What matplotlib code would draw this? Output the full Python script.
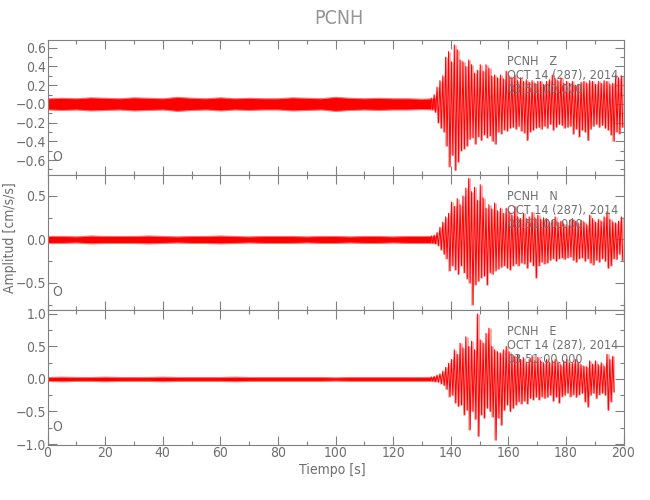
"""
Three-component seismogram PCNH (Z, N, E), SAC-style plot.
"""

import numpy as np
import matplotlib.pyplot as plt
from matplotlib.ticker import FixedLocator, FixedFormatter, MultipleLocator

plt.rcParams['font.family'] = ['DejaVu Sans']
plt.rcParams['font.stretch'] = 'condensed'

station = 'PCNH'
components = ['Z', 'N', 'E']
date_label = 'OCT 14 (287), 2014'
time_label = '03:51:00.000'

# background noise half-width, one value every 5 s from 0 to 135 s
noise_times = [0, 5, 10, 15, 20, 25, 30, 35, 40, 45, 50, 55, 60, 65,
               70, 75, 80, 85, 90, 95, 100, 105, 110, 115, 120, 125, 130, 135]
noise_z = [0.06, 0.065, 0.06, 0.07, 0.065, 0.06, 0.07, 0.065, 0.06, 0.075,
           0.065, 0.06, 0.07, 0.06, 0.065, 0.06, 0.06, 0.07, 0.065, 0.06,
           0.075, 0.065, 0.06, 0.065, 0.06, 0.06, 0.055, 0.06]
noise_n = [0.04, 0.04, 0.035, 0.045, 0.04, 0.04, 0.04, 0.045, 0.04, 0.035,
           0.04, 0.04, 0.045, 0.04, 0.035, 0.04, 0.04, 0.04, 0.035, 0.04,
           0.04, 0.035, 0.04, 0.04, 0.035, 0.04, 0.04, 0.04]
noise_e = [0.03, 0.035, 0.03, 0.03, 0.035, 0.03, 0.03, 0.03, 0.035, 0.03,
           0.03, 0.03, 0.03, 0.035, 0.03, 0.03, 0.03, 0.03, 0.03, 0.03,
           0.025, 0.03, 0.03, 0.03, 0.03, 0.03, 0.03, 0.03]

# event: peak max / min in each second, starting at 133 s
event_start = 133
z_max = [0.06, 0.10, 0.18, 0.25, 0.30, 0.50, 0.56, 0.45, 0.63, 0.58,
         0.47, 0.45, 0.40, 0.47, 0.42, 0.33, 0.36, 0.42, 0.35, 0.42,
         0.38, 0.30, 0.31, 0.28, 0.31, 0.27, 0.35, 0.30, 0.28, 0.31,
         0.25, 0.28, 0.24, 0.26, 0.23, 0.25, 0.22, 0.24, 0.24, 0.21,
         0.24, 0.26, 0.31, 0.27, 0.25, 0.28, 0.22, 0.24, 0.22, 0.24,
         0.20, 0.21, 0.23, 0.24, 0.22, 0.25, 0.24, 0.21, 0.24, 0.22,
         0.25, 0.24, 0.21, 0.22, 0.31, 0.28, 0.30]
z_min = [-0.06, -0.09, -0.20, -0.26, -0.30, -0.45, -0.67, -0.55, -0.71, -0.62,
         -0.50, -0.48, -0.45, -0.38, -0.36, -0.43, -0.35, -0.39, -0.33, -0.36,
         -0.34, -0.40, -0.43, -0.30, -0.32, -0.28, -0.29, -0.26, -0.25, -0.27,
         -0.24, -0.29, -0.31, -0.39, -0.30, -0.28, -0.26, -0.25, -0.27, -0.24,
         -0.26, -0.22, -0.28, -0.25, -0.22, -0.23, -0.26, -0.25, -0.24, -0.32,
         -0.27, -0.35, -0.28, -0.30, -0.39, -0.27, -0.24, -0.22, -0.25, -0.23,
         -0.26, -0.28, -0.33, -0.40, -0.30, -0.32, -0.25]
n_max = [0.04, 0.05, 0.08, 0.14, 0.20, 0.26, 0.30, 0.43, 0.38, 0.47,
         0.40, 0.50, 0.59, 0.70, 0.55, 0.60, 0.45, 0.63, 0.48, 0.36,
         0.40, 0.35, 0.42, 0.33, 0.36, 0.30, 0.36, 0.32, 0.28, 0.38,
         0.26, 0.24, 0.30, 0.24, 0.26, 0.31, 0.25, 0.28, 0.23, 0.25,
         0.24, 0.20, 0.22, 0.26, 0.20, 0.21, 0.18, 0.17, 0.22, 0.24,
         0.21, 0.19, 0.22, 0.20, 0.17, 0.28, 0.24, 0.20, 0.23, 0.21,
         0.26, 0.32, 0.23, 0.20, 0.19, 0.21, 0.26]
n_min = [-0.04, -0.05, -0.07, -0.12, -0.17, -0.22, -0.36, -0.30, -0.35, -0.40,
         -0.30, -0.38, -0.45, -0.50, -0.75, -0.52, -0.48, -0.44, -0.42, -0.52,
         -0.38, -0.40, -0.36, -0.34, -0.32, -0.30, -0.33, -0.35, -0.30, -0.28,
         -0.30, -0.27, -0.28, -0.33, -0.26, -0.30, -0.44, -0.30, -0.26, -0.28,
         -0.27, -0.24, -0.22, -0.25, -0.22, -0.21, -0.23, -0.21, -0.20, -0.24,
         -0.26, -0.22, -0.21, -0.25, -0.22, -0.27, -0.29, -0.24, -0.26, -0.22,
         -0.25, -0.33, -0.30, -0.22, -0.23, -0.17, -0.24]
e_max = [0.03, 0.04, 0.06, 0.08, 0.12, 0.18, 0.24, 0.30, 0.45, 0.38,
         0.55, 0.48, 0.65, 0.50, 0.58, 0.45, 1.00, 0.60, 0.55, 0.70,
         0.78, 0.50, 0.45, 0.42, 0.40, 0.45, 0.50, 0.42, 0.36, 0.35,
         0.38, 0.30, 0.32, 0.25, 0.30, 0.36, 0.28, 0.33, 0.28, 0.25,
         0.30, 0.26, 0.28, 0.30, 0.26, 0.22, 0.28, 0.30, 0.25, 0.24,
         0.30, 0.26, 0.22, 0.20, 0.19, 0.28, 0.23, 0.28, 0.22, 0.25,
         0.20, 0.38, 0.30, 0.35]
e_min = [-0.03, -0.04, -0.05, -0.07, -0.10, -0.16, -0.27, -0.25, -0.37, -0.42,
         -0.40, -0.55, -0.48, -0.78, -0.50, -0.62, -0.88, -0.55, -0.60, -0.45,
         -0.50, -0.58, -0.94, -0.60, -0.71, -0.48, -0.40, -0.50, -0.45, -0.40,
         -0.35, -0.38, -0.34, -0.38, -0.30, -0.32, -0.28, -0.32, -0.27, -0.30,
         -0.28, -0.25, -0.34, -0.28, -0.37, -0.27, -0.25, -0.22, -0.27, -0.24,
         -0.28, -0.24, -0.22, -0.35, -0.43, -0.25, -0.22, -0.30, -0.24, -0.22,
         -0.25, -0.48, -0.35, -0.20]

# axis settings per panel
y_limits = [(-0.76, 0.683), (-0.81, 0.74), (-1.015, 1.06)]
y_ticks = [[0.6, 0.4, 0.2, 0.0, -0.2, -0.4, -0.6],
           [0.5, 0.0, -0.5],
           [1.0, 0.5, 0.0, -0.5, -1.0]]
y_ticklabels = [['0.6', '0.4', '0.2', '\u22120.0', '\u22120.2', '\u22120.4', '\u22120.6'],
                ['0.5', '0.0', '\u22120.5'],
                ['1.0', '0.5', '0.0', '\u22120.5', '\u22121.0']]
y_minor = [0.1, 0.25, 0.25]

noise = [noise_z, noise_n, noise_e]
peaks = [(z_max, z_min), (n_max, n_min), (e_max, e_min)]

gray = '#808080'
text_gray = '#6e6e6e'
red = '#ff0000'

fig = plt.figure(figsize=(6.5, 5), dpi=100)
left, width = 47.5 / 650, 576 / 650
bottoms = [0.65, 0.38, 0.11]
height = 0.27

for i, comp in enumerate(components):
    ax = fig.add_axes([left, bottoms[i], width, height])

    # pre-event noise as a band
    amp = np.array(noise[i])
    ax.fill_between(noise_times, -amp, amp, facecolor=red,
                    edgecolor='#ff7070', lw=0.8, zorder=2)

    # event part: pale min-max bar per second under a zigzag through the peaks
    hi, lo = peaks[i]
    sec = event_start + np.arange(len(hi))
    ax.vlines(sec + 0.5, lo, hi, color='#ff7070', lw=2.1, alpha=0.6, zorder=2)
    tx = np.column_stack([sec + 0.25, sec + 0.75]).ravel()
    ty = np.column_stack([hi, lo]).ravel()
    ax.plot(tx, ty, color=red, lw=0.7, zorder=3)

    ax.set_xlim(0, 200)
    ax.set_ylim(*y_limits[i])

    ax.xaxis.set_major_locator(MultipleLocator(20))
    ax.xaxis.set_minor_locator(MultipleLocator(10))
    ax.yaxis.set_major_locator(FixedLocator(y_ticks[i]))
    ax.yaxis.set_major_formatter(FixedFormatter(y_ticklabels[i]))
    ax.yaxis.set_minor_locator(MultipleLocator(y_minor[i]))
    ax.tick_params(which='both', direction='in', top=True, right=True,
                   color=gray, labelcolor=text_gray, labelsize=10, pad=1)
    ax.tick_params(which='major', length=6.5, width=0.8)
    ax.tick_params(which='minor', length=3, width=0.8)
    if i < 2:
        ax.tick_params(labelbottom=False)
    for sp in ax.spines.values():
        sp.set_color(gray)
        sp.set_linewidth(0.8)

    ax.text(0.798, 0.84, f'{station}   {comp}', transform=ax.transAxes,
            color=text_gray, fontsize=9, va='center', zorder=4)
    ax.text(0.798, 0.735, date_label, transform=ax.transAxes,
            color=text_gray, fontsize=9, va='center', zorder=4)
    ax.text(0.798, 0.63, time_label, transform=ax.transAxes,
            color=text_gray, fontsize=9, va='center', zorder=4)
    ax.text(0.008, 0.13, 'O', transform=ax.transAxes,
            color=text_gray, fontsize=10, va='center')

fig.text(0.521, 0.964, station, ha='center', va='center',
         color='#959595', fontsize=14)
fig.text(0.511, 0.06, 'Tiempo [s]', ha='center', va='center',
         color=text_gray, fontsize=10)
fig.text(0.016, 0.525, 'Amplitud [cm/s/s]', ha='center', va='center',
         rotation=90, color=text_gray, fontsize=10)

fig.savefig('out.png', dpi=100)
